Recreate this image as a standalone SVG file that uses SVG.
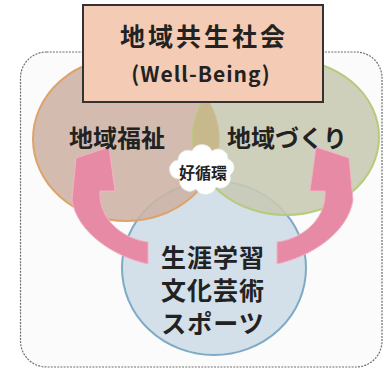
<svg xmlns="http://www.w3.org/2000/svg" width="383" height="369" viewBox="0 0 383 369">
  <style>
    .jp { font-family: "Noto Sans CJK JP", "Noto Sans CJK SC", sans-serif; fill: #222; text-anchor: middle; }
    .big { font-size: 24px; font-weight: 700; }
    .title { font-size: 25px; font-weight: 700; letter-spacing: 3px; }
    .sub { font-size: 21px; font-weight: 700; letter-spacing: 1px; }
    .mid { font-size: 25px; font-weight: 700; letter-spacing: 1px; }
    .small { font-size: 16px; font-weight: 700; }
    .arrow { fill: #e78aa5; stroke: #f1b3c4; stroke-width: 1; }
  </style>
  <defs>
    <clipPath id="clipLeft">
      <ellipse cx="126" cy="139" rx="93" ry="82"/>
    </clipPath>
  </defs>

  <rect x="0" y="0" width="383" height="369" fill="#ffffff"/>

  <g id="frame">
    <rect x="20.5" y="52" width="361.5" height="315" rx="26" ry="26" fill="#fbfbfb" stroke="#6f6f6f" stroke-width="1.2" stroke-dasharray="2 1.2"/>
  </g>

  <g id="learning">
    <ellipse cx="214" cy="268" rx="92" ry="87" fill="#d3dfe9" stroke="#7eaac6" stroke-width="2"/>
  </g>

  <g id="welfare">
    <ellipse cx="126" cy="139" rx="93" ry="82" fill="#cdb3a4" fill-opacity="0.88" stroke="#dea36a" stroke-width="2"/>
  </g>

  <g id="community">
    <ellipse cx="286" cy="137" rx="93" ry="78" fill="#c7c9b3" fill-opacity="0.88" stroke="#b6cb7c" stroke-width="2"/>
    <ellipse cx="286" cy="137" rx="93" ry="78" fill="#c8b98c" clip-path="url(#clipLeft)"/>
  </g>

  <g id="title">
    <rect x="83" y="5" width="240" height="97" fill="#f4cbb5" stroke="#333333" stroke-width="2"/>
    <text class="jp title" x="204" y="46">地域共生社会</text>
    <text class="jp sub" x="201" y="82">(Well-Being)</text>
  </g>

  <g id="connectors">
    <path id="arrowLeft" class="arrow" d="M148,264 C115,257 77,233 72,200 L76,158 L109,147 L115,191 L100,191 C98,215 118,238 148,242 Z"/>
    <path id="arrowRight" class="arrow" transform="translate(425,0) scale(-1,1)" d="M148,264 C115,257 77,233 72,200 L76,158 L109,147 L115,191 L100,191 C98,215 118,238 148,242 Z"/>
  </g>

  <g id="welfare-label">
    <text class="jp big" x="117" y="147">地域福祉</text>
  </g>
  <g id="community-label">
    <text class="jp big" x="287" y="147">地域づくり</text>
  </g>

  <g id="cycle">
    <path d="M178,160 a10,10 0 0,1 14,-9 a11,11 0 0,1 20,0 a10,10 0 0,1 16,8 a9,9 0 0,1 2,16 a10,10 0 0,1 -14,12 a11,11 0 0,1 -20,2 a10,10 0 0,1 -16,-10 a9,9 0 0,1 -2,-19 z" fill="#ffffff" stroke="#e4e4e4" stroke-width="0.8"/>
    <text class="jp small" x="203" y="179">好循環</text>
  </g>

  <g id="learning-label">
    <text class="jp mid" x="213" y="267">生涯学習</text>
    <text class="jp mid" x="213" y="300">文化芸術</text>
    <text class="jp mid" x="213" y="333">スポーツ</text>
  </g>
</svg>
